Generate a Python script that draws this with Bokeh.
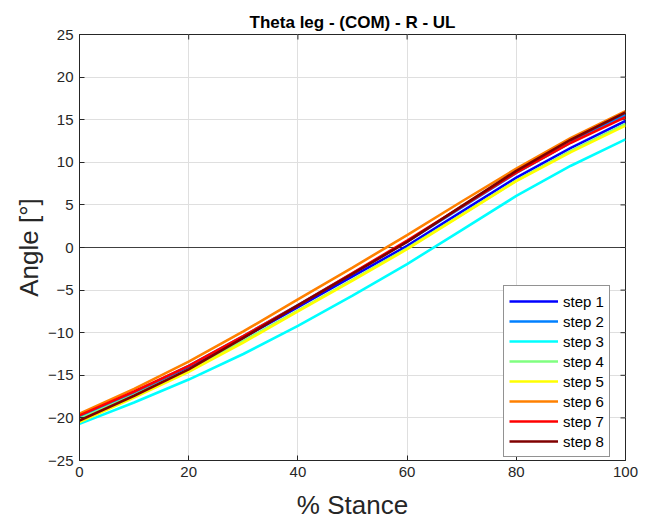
import math
from bokeh.plotting import figure
from bokeh.models import FixedTicker, Span, Legend, LegendItem, Range1d
from bokeh.embed import file_html
from bokeh.resources import INLINE

# % stance sample points
stance = [0, 10, 20, 30, 40, 50, 60, 70, 80, 90, 100]

# Theta leg angle [deg] per step
step1 = [-20.0, -17.15, -14.06, -10.6, -7.0, -3.4, 0.2, 4.2, 8.2, 11.7, 14.85]
step2 = [-19.9, -17.0, -13.9, -10.4, -6.75, -3.05, 0.7, 4.7, 8.75, 12.35, 15.55]
step3 = [-20.7, -18.2, -15.5, -12.5, -9.2, -5.65, -1.95, 2.05, 6.05, 9.6, 12.7]
step4 = [-20.1, -17.3, -14.3, -10.95, -7.4, -3.8, -0.1, 3.85, 7.85, 11.35, 14.5]
step5 = [-20.5, -17.6, -14.6, -11.15, -7.5, -3.9, -0.2, 3.8, 7.8, 11.2, 14.3]
step6 = [-19.5, -16.6, -13.4, -9.85, -6.1, -2.35, 1.45, 5.4, 9.26, 12.86, 16.0]
step7 = [-19.7, -16.9, -13.9, -10.4, -6.8, -3.0, 0.8, 4.8, 8.8, 12.3, 15.3]
step8 = [-20.3, -17.4, -14.3, -10.6, -6.8, -3.1, 0.66, 4.85, 9.0, 12.65, 15.85]

series = [step1, step2, step3, step4, step5, step6, step7, step8]
labels = ["step 1", "step 2", "step 3", "step 4", "step 5", "step 6", "step 7", "step 8"]
colors = ["#0000ff", "#0080ff", "#00ffff", "#80ff80", "#ffff00", "#ff8000", "#ff0000", "#800000"]

x_ticks = [0, 20, 40, 60, 80, 100]
y_ticks = [-25, -20, -15, -10, -5, 0, 5, 10, 15, 20, 25]
x_min, x_max = 0, 100
y_min, y_max = -25, 25

FONT = "Liberation Sans"
AX = "#262626"

p = figure(width=650, height=522, output_backend="svg", toolbar_location=None,
           x_range=Range1d(x_min, x_max), y_range=Range1d(y_min, y_max),
           min_border_left=79, min_border_right=25, min_border_top=34, min_border_bottom=61,
           background_fill_color="white", border_fill_color="white")

p.title.text = "Theta leg - (COM) - R - UL"
p.title.align = "center"
p.title.text_font = FONT
p.title.text_font_size = "17px"
p.title.text_font_style = "bold"
p.title.text_color = "#000000"
p.title.standoff = 5
p.title.offset = 0

p.outline_line_color = AX
p.outline_line_width = 1

for g in (p.xgrid, p.ygrid):
    g.grid_line_color = "#dfdfdf"
    g.grid_line_width = 1
p.xgrid.ticker = FixedTicker(ticks=x_ticks)
p.ygrid.ticker = FixedTicker(ticks=y_ticks)

for ax, ticks in ((p.xaxis[0], x_ticks), (p.yaxis[0], y_ticks)):
    ax.ticker = FixedTicker(ticks=ticks)
    ax.axis_line_color = AX
    ax.major_tick_line_color = AX
    ax.major_tick_in = 5
    ax.major_tick_out = 0
    ax.minor_tick_line_color = None
    ax.major_label_text_font = FONT
    ax.major_label_text_color = AX
    ax.major_label_text_font_size = "15px"
    ax.major_label_standoff = 6
    ax.axis_label_text_font = FONT
    ax.axis_label_text_font_size = "26px"
    ax.axis_label_text_font_style = "normal"
    ax.axis_label_text_color = AX

p.xaxis.axis_label = "% Stance"
p.yaxis.axis_label = "Angle [°]"
p.xaxis.axis_label_standoff = 10
p.yaxis.axis_label_standoff = 1

# inward tick marks on the top and right edges of the box
p.ray(x=x_ticks, y=[y_max] * len(x_ticks), length=5, length_units="screen",
      angle=-math.pi / 2, line_color=AX, line_width=1)
p.ray(x=[x_max] * len(y_ticks), y=y_ticks, length=5, length_units="screen",
      angle=math.pi, line_color=AX, line_width=1)

zero = Span(location=0, dimension="width", line_color="#404040", line_width=1, level="underlay")
p.add_layout(zero)

items = []
for vals, lab, col in zip(series, labels, colors):
    r = p.line(stance, vals, line_color=col, line_width=2.6)
    items.append(LegendItem(label=lab, renderers=[r]))

legend = Legend(items=items, location=(424, 3))
legend.label_text_font = FONT
legend.label_text_font_size = "15px"
legend.label_text_color = "#000000"
legend.glyph_width = 49
legend.glyph_height = 20
legend.label_height = 20
legend.label_width = 10
legend.label_standoff = 5
legend.spacing = 0
legend.padding = 5
legend.margin = 0
legend.border_line_color = AX
legend.border_line_width = 1
legend.background_fill_color = "white"
legend.background_fill_alpha = 1
p.add_layout(legend)

open("out.html", "w").write(file_html(p, INLINE))
